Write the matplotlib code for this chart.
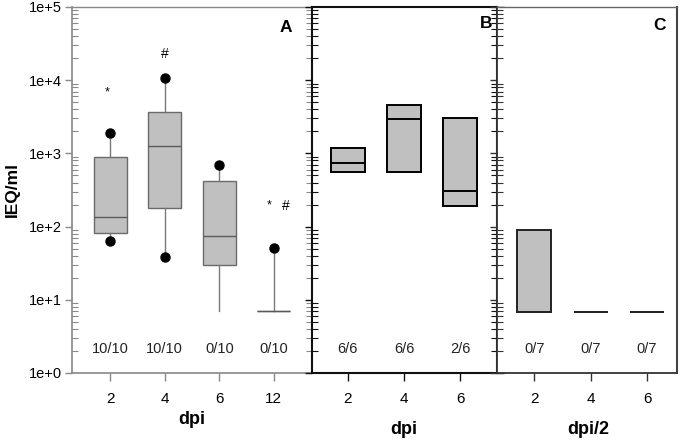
import matplotlib
matplotlib.use("Agg")
import matplotlib.pyplot as plt
from matplotlib.ticker import LogLocator, NullFormatter, FixedLocator

plt.rcParams['font.family'] = ['Liberation Sans', 'DejaVu Sans']

# ---------------- data ----------------
A_labels = ["2", "4", "6", "12"]
A_q1 = [81, 178, 30, 7]
A_med = [135, 1250, 74, 7]
A_q3 = [885, 3680, 424, 7]
A_whislo = [64, 39, 7, 7]
A_whishi = [1900, 10700, 695, 51]
A_dot_pos = [1, 1, 2, 2, 3, 4]
A_dot_val = [1900, 64, 10700, 39, 695, 51]
A_counts = ["10/10", "10/10", "0/10", "0/10"]

B_labels = ["2", "4", "6"]
B_q1 = [562, 562, 189]
B_med = [733, 2920, 303]
B_q3 = [1200, 4540, 3050]
B_counts = ["6/6", "6/6", "2/6"]

C_labels = ["2", "4", "6"]
C_q1 = [6.9, 6.9, 6.9]
C_med = [6.9, 6.9, 6.9]
C_q3 = [89, 6.9, 6.9]
C_counts = ["0/7", "0/7", "0/7"]

# significance marks: (position, y value, symbol)
A_marks_pos = [0.95, 2.0, 3.92, 4.21]
A_marks_val = [6800, 23000, 193, 193]
A_marks_sym = ["*", "#", "*", "#"]

count_y = 2.13
ylim = (1, 1e5)
ytick_vals = [1, 10, 100, 1000, 10000, 100000]
ytick_labels = ["1e+0", "1e+1", "1e+2", "1e+3", "1e+4", "1e+5"]

# ---------------- figure ----------------
W, H = 685, 441
fig = plt.figure(figsize=(W / 100, H / 100), dpi=100)

def rect(x0, x1, y0=7, y1=373):
    return [x0 / W, 1 - y1 / H, (x1 - x0) / W, (y1 - y0) / H]

axA = fig.add_axes(rect(72, 311.5))
axB = fig.add_axes(rect(311.5, 497))
axC = fig.add_axes(rect(497, 677))

box_fill = '#c0c0c0'

def make_stats(q1, med, q3, lo, hi):
    return [dict(q1=a, med=b, q3=c, whislo=d, whishi=e, fliers=[])
            for a, b, c, d, e in zip(q1, med, q3, lo, hi)]

def style_axis(ax, color, spine_colors, left=True, right=True):
    ax.set_yscale('log')
    ax.set_ylim(*ylim)
    ax.yaxis.set_major_locator(FixedLocator(ytick_vals))
    ax.yaxis.set_minor_locator(LogLocator(base=10, subs=range(2, 10), numticks=20))
    ax.yaxis.set_minor_formatter(NullFormatter())
    for side, (c, w) in spine_colors.items():
        ax.spines[side].set_color(c)
        ax.spines[side].set_linewidth(w)
    ax.tick_params(axis='y', which='major', direction='out', length=5, width=1,
                   color=color, left=left, right=False)
    ax.tick_params(axis='y', which='minor', direction='in', length=4, width=0.8,
                   color=color, left=left, right=right)
    ax.tick_params(axis='x', which='major', direction='out', length=6, width=1,
                   color=color, labelsize=11, pad=8)
    ax.set_yticklabels([])

# ---- Panel A ----
posA = list(range(1, len(A_labels) + 1))
axA.bxp(make_stats(A_q1, A_med, A_q3, A_whislo, A_whishi), positions=posA,
        widths=0.6, patch_artist=True, showcaps=False, showfliers=False,
        boxprops=dict(facecolor=box_fill, edgecolor='#6a6a6a', linewidth=1),
        medianprops=dict(color='#5a5a5a', linewidth=1),
        whiskerprops=dict(color='#7a7a7a', linewidth=1))
axA.plot(A_dot_pos, A_dot_val, 'o', color='black', markersize=6.5, zorder=5)
axA.set_xlim(0.3, 4.69)
axA.set_xticks(posA)
axA.set_xticklabels(A_labels)
style_axis(axA, '#888888',
           {'left': ('#888888', 1.2), 'top': ('#888888', 1), 'bottom': ('#888888', 1.2),
            'right': ('#888888', 0)}, left=True, right=True)
axA.set_yticks(ytick_vals)
axA.set_yticklabels(ytick_labels)
axA.tick_params(axis='y', which='major', labelsize=10.5, pad=2, left=True)
for p, c in zip(posA, A_counts):
    axA.text(p, count_y, c, ha='center', va='center', fontsize=10.5, color='#222222')
for p, v, s in zip(A_marks_pos, A_marks_val, A_marks_sym):
    axA.text(p, v, s, ha='center', va='center', fontsize=9 if s == "*" else 10,
             color='black')
axA.text(0.894, 0.945, "A", transform=axA.transAxes, ha='center', va='center',
         fontsize=12.5, fontweight='bold')

# ---- Panel B ----
posB = list(range(1, len(B_labels) + 1))
axB.bxp(make_stats(B_q1, B_med, B_q3, B_q1, B_q3), positions=posB,
        widths=0.6, patch_artist=True, showcaps=False, showfliers=False,
        boxprops=dict(facecolor=box_fill, edgecolor='black', linewidth=1.4),
        medianprops=dict(color='black', linewidth=1.4),
        whiskerprops=dict(color='black', linewidth=0))
axB.set_xlim(0.35, 3.66)
axB.set_xticks(posB)
axB.set_xticklabels(B_labels)
style_axis(axB, '#111111',
           {'left': ('#111111', 1.5), 'top': ('#111111', 1.5), 'bottom': ('#111111', 1.5),
            'right': ('#111111', 1.5)}, left=True, right=True)
axB.tick_params(axis='y', which='major', right=True, direction='out')
for p, c in zip(posB, B_counts):
    axB.text(p, count_y, c, ha='center', va='center', fontsize=10.5, color='#222222')
axB.text(0.94, 0.955, "B", transform=axB.transAxes, ha='center', va='center',
         fontsize=12.5, fontweight='bold')

# ---- Panel C ----
posC = list(range(1, len(C_labels) + 1))
axC.bxp(make_stats(C_q1, C_med, C_q3, C_q1, C_q3), positions=posC,
        widths=0.6, patch_artist=True, showcaps=False, showfliers=False,
        boxprops=dict(facecolor=box_fill, edgecolor='#222222', linewidth=1.4),
        medianprops=dict(color='#222222', linewidth=1.4),
        whiskerprops=dict(color='black', linewidth=0))
axC.set_xlim(0.34, 3.53)
axC.set_xticks(posC)
axC.set_xticklabels(C_labels)
style_axis(axC, '#333333',
           {'left': ('#333333', 1.3), 'top': ('#666666', 1), 'bottom': ('#333333', 1.3),
            'right': ('#444444', 1.5)}, left=True, right=False)
for p, c in zip(posC, C_counts):
    axC.text(p, count_y, c, ha='center', va='center', fontsize=10.5, color='#222222')
axC.text((660 - 497) / 180, 1 - (25 - 7) / 366, "C", transform=axC.transAxes,
         ha='center', va='center', fontsize=12.5, fontweight='bold')

# ---- axis labels ----
fig.text(12.5 / W, 1 - 190 / H, "IEQ/ml", rotation=90, ha='center', va='center',
         fontsize=12.5, fontweight='bold')
fig.text(192 / W, 1 - 420 / H, "dpi", ha='center', va='center', fontsize=13, fontweight='bold')
fig.text(404 / W, 1 - 430 / H, "dpi", ha='center', va='center', fontsize=13, fontweight='bold')
fig.text(588 / W, 1 - 430 / H, "dpi/2", ha='center', va='center', fontsize=13, fontweight='bold')

fig.savefig("out.png", dpi=100)
